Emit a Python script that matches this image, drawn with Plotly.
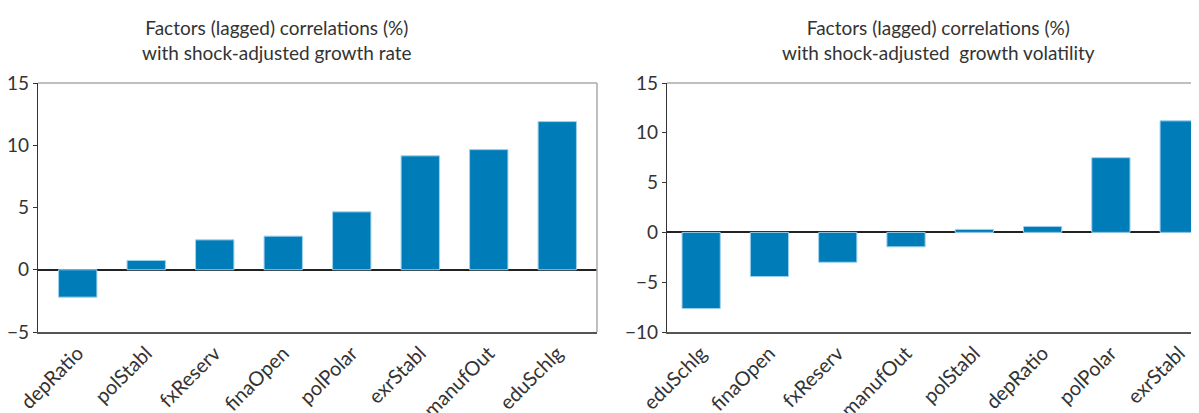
import plotly.graph_objects as go

# Data
cats_rate = ["depRatio", "polStabl", "fxReserv", "finaOpen", "polPolar", "exrStabl", "manufOut", "eduSchlg"]
vals_rate = [-2.2, 0.75, 2.4, 2.7, 4.65, 9.15, 9.65, 11.9]

cats_vol = ["eduSchlg", "finaOpen", "fxReserv", "manufOut", "polStabl", "depRatio", "polPolar", "exrStabl"]
vals_vol = [-7.65, -4.43, -3.0, -1.45, 0.3, 0.6, 7.5, 11.2]

title_rate = "Factors (lagged) correlations (%)<br>with shock-adjusted growth rate"
title_vol = "Factors (lagged) correlations (%)<br>with shock-adjusted  growth volatility"

OFF = 8  # page body margin
W, H = 1199 - OFF, 413 - OFF
ML, MR, MT, MB = 38 - OFF, 0, 83 - OFF, 81
PW = W - ML - MR

def px(x):
    return (x - OFF - ML) / PW

BAR = "#007DB8"
EDGE = "#9fd0ee"
FONT = "Lato"
TXT = "#333333"

fig = go.Figure()
fig.add_trace(go.Bar(x=cats_rate, y=vals_rate, xaxis="x", yaxis="y",
                     marker=dict(color=BAR, line=dict(color=EDGE, width=1)),
                     width=0.56))
fig.add_trace(go.Bar(x=cats_vol, y=vals_vol, xaxis="x2", yaxis="y2",
                     marker=dict(color=BAR, line=dict(color=EDGE, width=1)),
                     width=0.56))

xcommon = dict(tickangle=-45, tickfont=dict(family=FONT, size=20, color=TXT),
               showline=True, linecolor="#555555", linewidth=1.5, ticks="",
               showgrid=False, zeroline=False, automargin=False, type="category")
ycommon = dict(tickfont=dict(family=FONT, size=19, color=TXT), dtick=5,
               showline=True, linecolor="#333333", linewidth=1.2, ticks="outside",
               ticklen=4, tickcolor="#333333", showgrid=False,
               zeroline=True, zerolinecolor="#222222", zerolinewidth=1.5,
               automargin=False)

fig.update_layout(
    width=W, height=H,
    margin=dict(l=ML, r=MR, t=MT, b=MB),
    paper_bgcolor="white", plot_bgcolor="white",
    showlegend=False, bargap=0.44,
    xaxis=dict(domain=[0, px(597)], range=[-0.58, 7.58], anchor="y", **xcommon),
    yaxis=dict(domain=[0, 1], range=[-5, 15], anchor="x", **ycommon),
    xaxis2=dict(domain=[px(667), 1], range=[-0.5, 7.29], anchor="y2", **xcommon),
    yaxis2=dict(domain=[0, 1], range=[-10, 15], anchor="x2", **ycommon),
    font=dict(family=FONT, color=TXT),
)

# gray frame on top/right
for xr, yr in [("x domain", "y domain"), ("x2 domain", "y2 domain")]:
    fig.add_shape(type="line", xref=xr, yref=yr, x0=0, x1=1, y0=1, y1=1,
                  line=dict(color="#aaaaaa", width=1.5))
fig.add_shape(type="line", xref="x domain", yref="y domain", x0=1, x1=1, y0=0, y1=1,
              line=dict(color="#aaaaaa", width=1.5))

for txt, cx in [(title_rate, 277), (title_vol, 938)]:
    fig.add_annotation(text=txt, xref="paper", yref="paper", x=px(cx), y=1,
                       yshift=17, xanchor="center", yanchor="bottom", showarrow=False,
                       font=dict(family=FONT, size=19, color=TXT), align="center")

fig.write_html("out.html")
